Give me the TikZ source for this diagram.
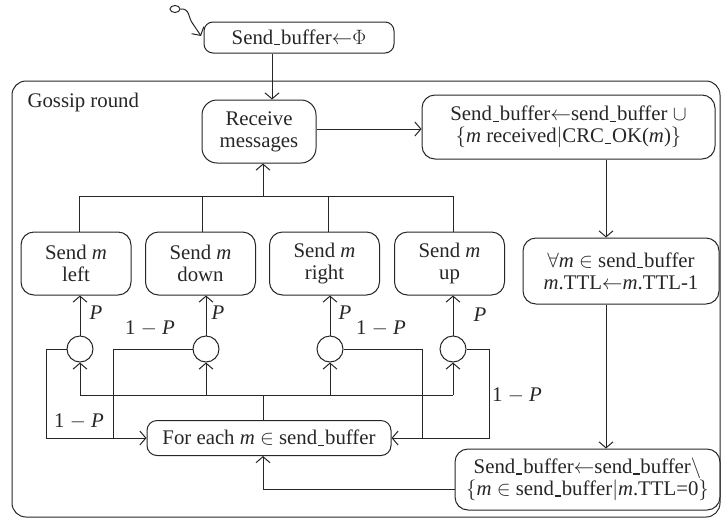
\documentclass[tikz,border=0pt]{standalone}
\usepackage{fontspec}
\setmainfont{Liberation Serif}
\usetikzlibrary{arrows.meta,shapes.geometric,calc}
% short low underscore used inside identifiers
\newcommand{\usc}{\kern.04em\rule[-.06em]{.3em}{.07em}\kern.04em}
\newcommand{\im}{\textit{m}}
\newcommand{\ip}{\textit{P}}
\newcommand{\assignarrow}{$\mathord{\leftarrow}$}

\begin{document}
\begin{tikzpicture}[x=1pt,y=-1pt,line width=1pt,color=black!85,
  >={Straight Barb[length=6pt,width=14pt]},
  txt/.style={font=\fontsize{20.8}{22}\selectfont},
  box/.style={txt,draw,rounded corners=13pt,align=center,inner sep=0pt},
  sendbox/.style={box,minimum width=110pt,minimum height=63pt},
  chooser/.style={circle,draw,minimum size=26pt,inner sep=0pt},
  lbl/.style={txt,inner sep=0pt}]
\useasboundingbox (0,0) rectangle (722,520);

% outer frame of one gossip round
\draw[rounded corners=14pt] (12,81) rectangle (720,517);
\node[txt,anchor=base west,inner sep=0pt] (title) at (27,107) {Gossip round};

% initialisation
\node[ellipse,draw,minimum width=10pt,minimum height=7pt,inner sep=0pt] (start) at (175,9) {};
\node[box,minimum width=190pt,minimum height=31pt,rounded corners=9pt] (init) at (299,37.5) {Send\usc buffer\assignarrow$\Phi$};
\coordinate (sqEnd) at (201,36);
\draw[->] (start.east) .. controls (190,8) and (188,18) .. (193,24) .. controls (197,29) .. (sqEnd);

% main boxes
\node[box,minimum width=114pt,minimum height=63pt,rounded corners=15pt] (recv) at (259,131.5) {Receive\\messages};
\node[box,minimum width=293pt,minimum height=64pt] (crc) at (568.5,127) {Send\usc buffer\assignarrow send\usc buffer $\cup$\\$\{$\im{} received$|$CRC\usc OK(\im)$\}$};
\node[box,minimum width=196pt,minimum height=66pt] (ttl) at (621,271) {$\forall$\im{} $\in$ send\usc buffer\\\im.TTL\assignarrow\im.TTL-1};
\node[box,minimum width=265pt,minimum height=61pt] (del) at (587.5,479.5) {Send\usc buffer\assignarrow send\usc buffer$\backslash$\\$\{$\im{} $\in$ send\usc buffer$|$\im.TTL=0$\}$};
\node[box,minimum width=244pt,minimum height=35pt,rounded corners=10pt] (fe) at (269,438) {For each \im{} $\in$ send\usc buffer};

% send boxes
\node[sendbox] (sL) at (76,263.5) {Send \im\\left};
\node[sendbox] (sD) at (200.5,263.5) {Send \im\\down};
\node[sendbox] (sR) at (324.5,263.5) {Send \im\\right};
\node[sendbox] (sU) at (449.5,263.5) {Send \im\\up};

% random choosers
\node[chooser] (cL) at (80,349) {};
\node[chooser] (cD) at (206,349) {};
\node[chooser] (cR) at (330,349) {};
\node[chooser] (cU) at (453,349) {};

% helper coordinates
\coordinate (cTop) at (272,0);
\coordinate (cMid) at (263,0);
\coordinate (cRight) at (606,0);
\coordinate (rowRecv) at (0,129);
\coordinate (bL) at (79,196.5);
\coordinate (bD) at (202,196.5);
\coordinate (bR) at (328,196.5);
\coordinate (bU) at (453,196.5);
\coordinate (lb) at (263,395);
\coordinate (fbL) at (46,438);
\coordinate (fbD) at (113,438);
\coordinate (fbR) at (422,438);
\coordinate (fbU) at (489,438);
\coordinate (dl) at (263,489);

% flow
\draw[->] (init.south -| cTop) -- (recv.north -| cTop);
\draw[->] (recv.east |- rowRecv) -- (crc.west |- rowRecv);
\draw[->] (crc.south -| cRight) -- (ttl.north -| cRight);
\draw[->] (ttl.south -| cRight) -- (del.north -| cRight);
\draw[->] (del.west |- dl) -- (dl) -- (fe.south -| dl);

% collecting bus into receive
\draw (sL.north -| bL) -- (bL) -- (bU) -- (sU.north -| bU);
\draw (sD.north -| bD) -- (bD);
\draw (sR.north -| bR) -- (bR);
\draw[->] (bL -| cMid) -- (recv.south -| cMid);

% distribution bus from for-each
\draw (fe.north -| lb) -- (lb);
\draw (cL |- lb) -- (cU |- lb);
\draw[->] (cL |- lb) -- (cL);
\draw[->] (cD |- lb) -- (cD);
\draw[->] (cR |- lb) -- (cR);
\draw[->] (cU |- lb) -- (cU);

% probability P: send
\draw[->] (cL) -- (sL.south -| cL);
\draw[->] (cD) -- (sD.south -| cD);
\draw[->] (cR) -- (sR.south -| cR);
\draw[->] (cU) -- (sU.south -| cU);

% probability 1-P: back to for-each
\draw[->] (cL.west) -| (fbL) -- (fe.west);
\draw (cD.west) -| (fbD);
\draw[->] (cR.east) -| (fbR) -- (fe.east);
\draw (cU.east) -| (fbU) -- (fbR);

% labels
\node[lbl] (pL) at (96,313) {\ip};
\node[lbl] (pD) at (218,313) {\ip};
\node[lbl] (pR) at (345,313) {\ip};
\node[lbl] (pU) at (480,315) {\ip};
\node[lbl] (qL) at (79,421) {1 $-$ \ip};
\node[lbl] (qD) at (150,328) {1 $-$ \ip};
\node[lbl] (qR) at (381,328) {1 $-$ \ip};
\node[lbl] (qU) at (517,395) {1 $-$ \ip};
\end{tikzpicture}
\end{document}
